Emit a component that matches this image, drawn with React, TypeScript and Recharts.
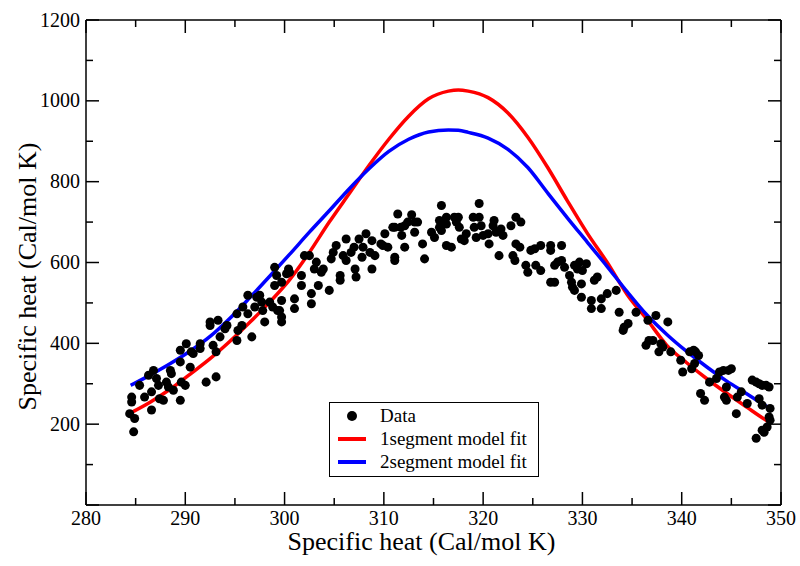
import { ComposedChart, Scatter, Line, XAxis, YAxis, Legend, Label } from "recharts";

const serif = "'Liberation Serif', 'Times New Roman', serif";

// axis ticks (major every 10 / 200, minor in between)
const xTicks = [280, 285, 290, 295, 300, 305, 310, 315, 320, 325, 330, 335, 340, 345, 350];
const yTicks = [0, 100, 200, 300, 400, 500, 600, 700, 800, 900, 1000, 1100, 1200];

// measured points [temperature, specific heat]
const dataPoints: [number, number][] = [
    [284.6, 267], [284.6, 255], [284.4, 226], [284.9, 214], [284.8, 181],
    [285.4, 296], [285.9, 267], [286.3, 321], [286.6, 280], [286.6, 235], [286.8, 333], [287.1, 313],
    [287.3, 296], [287.4, 263], [287.8, 259], [288.1, 304], [288.3, 292], [288.5, 333], [288.6, 325],
    [288.8, 284], [289.5, 259], [289.5, 354], [289.6, 304], [289.5, 383], [290.0, 296], [290.1, 399],
    [290.5, 341], [290.6, 379], [290.8, 375], [291.5, 399], [291.5, 387], [292.1, 304], [292.5, 444],
    [292.5, 453], [292.8, 395], [293.1, 317], [293.1, 379], [293.3, 457], [293.5, 416], [294.0, 436],
    [294.2, 444], [295.2, 473], [295.2, 407], [295.3, 432], [295.7, 444], [295.8, 490], [296.3, 519],
    [296.3, 473], [296.7, 416], [297.0, 490], [297.2, 514], [297.5, 519], [297.7, 502], [297.8, 481],
    [298.0, 453], [298.5, 502], [298.8, 490], [299.0, 588], [299.0, 543], [299.2, 568], [299.3, 481],
    [299.7, 506], [299.7, 465], [299.7, 453], [299.7, 551], [300.2, 572],
    [299.5, 481], [300.4, 584], [300.5, 576], [301.0, 510], [301.0, 486], [301.7, 568], [301.7, 543],
    [302.0, 617], [302.5, 617], [302.7, 523], [302.7, 498], [303.0, 584], [303.2, 601], [303.4, 543],
    [303.7, 576], [303.9, 584], [304.5, 531], [304.7, 609], [304.9, 625], [305.2, 642], [305.6, 568],
    [305.6, 556], [305.9, 617], [306.2, 658], [306.2, 605], [306.7, 625], [307.0, 638], [307.1, 584],
    [307.2, 564], [307.5, 658], [307.9, 638], [307.8, 613], [308.2, 671], [308.6, 625], [308.8, 654],
    [308.8, 584], [309.1, 617], [309.7, 646], [309.9, 642], [310.1, 671], [310.4, 638], [310.9, 687],
    [311.1, 613], [311.1, 605], [311.1, 687], [311.4, 720], [311.7, 687], [311.8, 667], [312.1, 691],
    [312.1, 638], [312.4, 700], [312.8, 718], [313.1, 700], [313.1, 675], [313.4, 700], [313.9, 646],
    [314.1, 609], [314.8, 675], [315.1, 662], [315.8, 741], [315.8, 700], [315.8, 679], [315.6, 704],
    [316.3, 712], [316.3, 642],
    [315.6, 687], [316.3, 695], [316.8, 638], [317.1, 712], [317.3, 700], [317.5, 712], [317.6, 687],
    [317.8, 658], [318.1, 654], [318.3, 671], [319.0, 712], [319.1, 687], [319.3, 662], [319.6, 746],
    [319.6, 712], [319.8, 691], [320.0, 667], [320.5, 671], [320.6, 646], [321.0, 691], [321.1, 704],
    [321.3, 675], [321.6, 617], [321.8, 683], [322.0, 667], [322.8, 691], [323.0, 617], [323.2, 605],
    [323.3, 712], [323.3, 646], [323.7, 638], [323.8, 700], [324.3, 593], [324.5, 576], [324.8, 630],
    [325.2, 634], [325.3, 593], [325.8, 580], [325.8, 642], [326.8, 642], [326.8, 630], [326.8, 551],
    [327.2, 551], [327.2, 593], [327.5, 601], [327.9, 642], [327.9, 605], [328.2, 588], [328.7, 568],
    [328.9, 551], [329.0, 539], [329.2, 593], [329.2, 531], [329.5, 584], [329.7, 601], [329.9, 547],
    [330.0, 580], [330.4, 597], [329.9, 514], [330.9, 506], [330.9, 486], [331.2, 556], [331.5, 564],
    [331.9, 486], [331.9, 510], [332.5, 523],
    [333.4, 531], [333.7, 477], [334.1, 432], [334.2, 440], [334.6, 449], [335.4, 477], [336.6, 457],
    [337.4, 469], [338.6, 453], [336.4, 395], [336.7, 407], [337.1, 407], [337.9, 399], [337.7, 379],
    [338.1, 391], [338.9, 379], [339.9, 358], [340.1, 329], [340.8, 379], [341.0, 337], [341.2, 383],
    [341.4, 379], [341.7, 370], [341.3, 350], [341.9, 276], [342.3, 259], [342.8, 304], [343.5, 313],
    [343.8, 329], [344.2, 333], [344.7, 333], [345.0, 337], [344.5, 292], [344.3, 267], [344.5, 259],
    [345.6, 267], [345.5, 226], [346.0, 280], [346.6, 251], [347.1, 309], [347.5, 304], [347.8, 300],
    [348.1, 296], [348.5, 296], [348.8, 292], [347.8, 263], [348.1, 247], [348.8, 218], [348.9, 210],
    [348.1, 185], [348.3, 180], [347.5, 165], [348.6, 193], [348.9, 239],
];

const fitX = [
    284.5, 286.5, 288.5, 290.5, 292.5, 294.5, 296.5, 298.5, 300.5, 302.5, 304.5, 306.5, 308.5, 310.5,
    312.5, 314.5, 316.5, 317.5, 318.5, 320.5, 322.5, 324.5, 326.5, 328.5, 330.5, 332.5, 334.5, 336.5,
    338.5, 340.5, 342.5, 344.5, 346.5, 348.5, 349,
];
const oneSegFit = [
    228, 255, 287, 324, 362, 405, 452, 502, 557, 625, 700, 770, 840, 905,
    962, 1005, 1024, 1027, 1024, 1008, 970, 910, 835, 752, 672, 600, 521, 459,
    395, 352, 313, 277, 243, 210, 203,
];
const twoSegFit = [
    296, 322, 350, 381, 417, 462, 513, 566, 620, 675, 728, 782, 832, 875,
    905, 923, 928, 927, 922, 908, 880, 835, 772, 710, 650, 590, 528, 470,
    422, 380, 342, 307, 276, 245, 238,
];

const legendItems = [
    { label: "Data", kind: "dot", color: "#000000" },
    { label: "1segment model fit", kind: "line", color: "#ff0000" },
    { label: "2segment model fit", kind: "line", color: "#0000ff" },
];

const scatterData = dataPoints.map(([x, y]) => ({ x, y }));
const oneSegData = fitX.map((x, i) => ({ x, y: oneSegFit[i] }));
const twoSegData = fitX.map((x, i) => ({ x, y: twoSegFit[i] }));

const axisLine = { stroke: "#000", strokeWidth: 1.5 };
const tickText = { fontFamily: serif, fontSize: 20, fill: "#000" };

function BottomTick(props: any) {
    const { x, y, payload } = props;
    const major = payload.value % 10 === 0;
    return (
        <g>
            <line x1={x} y1={y} x2={x} y2={y - (major ? 13 : 7)} stroke="#000" strokeWidth={1.5} />
            {major && (
                <text x={x} y={y + 20} textAnchor="middle" style={tickText}>
                    {payload.value}
                </text>
            )}
        </g>
    );
}

function TopTick(props: any) {
    const { x, y, payload } = props;
    const major = payload.value % 10 === 0;
    return <line x1={x} y1={y} x2={x} y2={y + (major ? 13 : 7)} stroke="#000" strokeWidth={1.5} />;
}

function LeftTick(props: any) {
    const { x, y, payload } = props;
    const major = payload.value % 200 === 0;
    return (
        <g>
            <line x1={x} y1={y} x2={x + (major ? 13 : 7)} y2={y} stroke="#000" strokeWidth={1.5} />
            {major && payload.value > 0 && (
                <text x={x - 6} y={y} dy="0.33em" textAnchor="end" style={tickText}>
                    {payload.value}
                </text>
            )}
        </g>
    );
}

function RightTick(props: any) {
    const { x, y, payload } = props;
    const major = payload.value % 200 === 0;
    return <line x1={x} y1={y} x2={x - (major ? 13 : 7)} y2={y} stroke="#000" strokeWidth={1.5} />;
}

function XTitle(props: any) {
    const { x, width } = props.viewBox;
    return (
        <text x={x + width / 2 - 12} y={550} textAnchor="middle" style={{ fontFamily: serif, fontSize: 26, fill: "#000" }}>
            Specific heat (Cal/mol K)
        </text>
    );
}

function YTitle(props: any) {
    const { x, y, height } = props.viewBox;
    const cx = x + 27;
    const cy = y + height / 2 + 14;
    return (
        <text
            x={cx}
            y={cy}
            transform={`rotate(-90, ${cx}, ${cy})`}
            textAnchor="middle"
            dominantBaseline="central"
            style={{ fontFamily: serif, fontSize: 26, fill: "#000" }}
        >
            Specific heat (Cal/mol K)
        </text>
    );
}

function LegendBox() {
    return (
        <div
            style={{
                width: 210,
                height: 75,
                boxSizing: "border-box",
                border: "1px solid #000",
                background: "#fff",
                paddingTop: 1,
                fontFamily: serif,
                fontSize: 19,
                color: "#000",
            }}
        >
            {legendItems.map((item) => (
                <div key={item.label} style={{ display: "flex", alignItems: "center", height: 23 }}>
                    <div style={{ width: 50, position: "relative", height: 23 }}>
                        {item.kind === "dot" ? (
                            <div
                                style={{
                                    position: "absolute",
                                    left: 17,
                                    top: 7,
                                    width: 10,
                                    height: 10,
                                    borderRadius: 5,
                                    background: item.color,
                                }}
                            />
                        ) : (
                            <div
                                style={{
                                    position: "absolute",
                                    left: 8,
                                    top: 10,
                                    width: 28,
                                    height: 3.5,
                                    background: item.color,
                                }}
                            />
                        )}
                    </div>
                    <span style={{ lineHeight: "23px" }}>{item.label}</span>
                </div>
            ))}
        </div>
    );
}

export default function App() {
    return (
        <div style={{ position: "absolute", left: 0, top: 0, width: 800, height: 566, background: "#fff", fontFamily: serif }}>
            <ComposedChart width={800} height={566} margin={{ top: 0, right: 0, bottom: 0, left: 0 }}>
                <XAxis
                    dataKey="x"
                    type="number"
                    domain={[280, 350]}
                    ticks={xTicks}
                    interval={0}
                    height={61}
                    tickSize={0}
                    tickMargin={0}
                    tick={BottomTick}
                    tickLine={false}
                    axisLine={axisLine}
                    allowDataOverflow
                >
                    <Label content={XTitle} />
                </XAxis>
                <XAxis
                    xAxisId="top"
                    orientation="top"
                    dataKey="x"
                    type="number"
                    domain={[280, 350]}
                    ticks={xTicks}
                    interval={0}
                    height={20}
                    tickSize={0}
                    tickMargin={0}
                    tick={TopTick}
                    tickLine={false}
                    axisLine={axisLine}
                    allowDataOverflow
                />
                <YAxis
                    dataKey="y"
                    type="number"
                    domain={[0, 1200]}
                    ticks={yTicks}
                    interval={0}
                    width={86}
                    tickSize={0}
                    tickMargin={0}
                    tick={LeftTick}
                    tickLine={false}
                    axisLine={axisLine}
                    allowDataOverflow
                >
                    <Label content={YTitle} />
                </YAxis>
                <YAxis
                    yAxisId="right"
                    orientation="right"
                    dataKey="y"
                    type="number"
                    domain={[0, 1200]}
                    ticks={yTicks}
                    interval={0}
                    width={19}
                    tickSize={0}
                    tickMargin={0}
                    tick={RightTick}
                    tickLine={false}
                    axisLine={axisLine}
                    allowDataOverflow
                />
                <Scatter name="Data" data={scatterData} fill="#000" isAnimationActive={false} />
                <Line
                    name="1segment model fit"
                    data={oneSegData}
                    dataKey="y"
                    xAxisId="top"
                    yAxisId="right"
                    type="monotone"
                    stroke="#ff0000"
                    strokeWidth={3.5}
                    dot={false}
                    activeDot={false}
                    isAnimationActive={false}
                />
                <Line
                    name="2segment model fit"
                    data={twoSegData}
                    dataKey="y"
                    xAxisId="top"
                    yAxisId="right"
                    type="monotone"
                    stroke="#0000ff"
                    strokeWidth={3.5}
                    dot={false}
                    activeDot={false}
                    isAnimationActive={false}
                />
                <Legend
                    layout="horizontal"
                    verticalAlign="middle"
                    align="center"
                    content={LegendBox}
                    wrapperStyle={{ left: 329, top: 402, width: 210, height: 75 }}
                />
            </ComposedChart>
        </div>
    );
}
